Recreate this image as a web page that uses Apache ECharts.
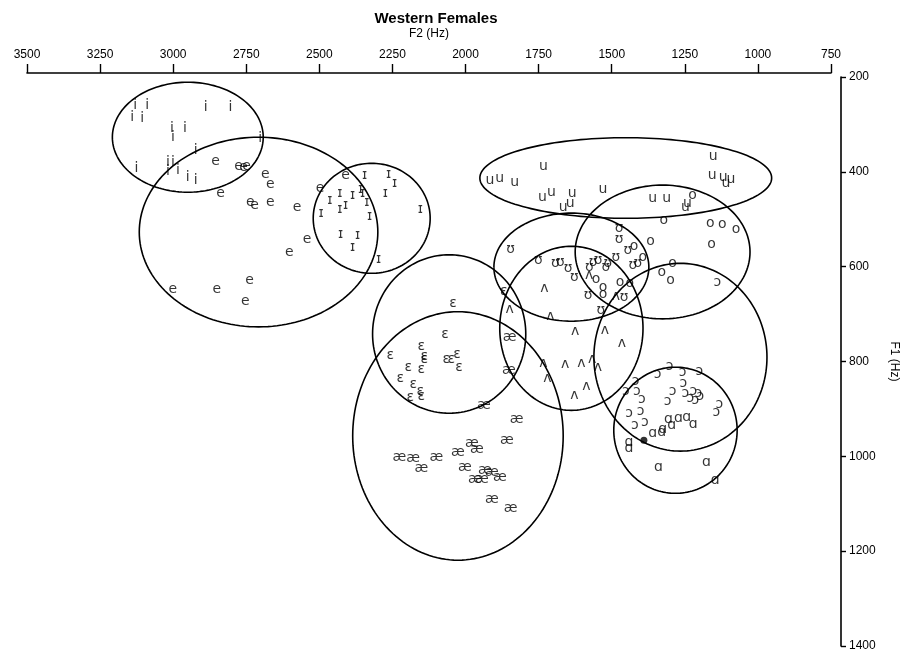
<!DOCTYPE html>
<html><head><meta charset="utf-8">
<script src="https://cdn.jsdelivr.net/npm/echarts@6/dist/echarts.min.js"></script>
<style>html,body{margin:0;padding:0;background:#fff}#c{width:908px;height:654px}</style>
</head><body><div id="c"></div>
<script>
// ---- data (F2 Hz, F1 Hz) ----
const titleText = 'Western Females';
const xName = 'F2 (Hz)';
const yName = 'F1 (Hz)';

const vowel_i = [[3130,259],[3089,259],[3140,286],[3106,288],[2889,263],[2804,263],[3004,308],[3001,327],[2960,308],[2702,329],[2923,354],[3126,392],[3018,381],[3001,379],[2984,396],[2950,411],[2923,417],[3018,400]];
const vowel_e = [[2855,377],[2776,388],[2759,390],[2749,388],[2685,405],[2668,426],[2838,445],[2736,464],[2722,470],[2668,464],[2576,474],[2410,407],[2498,434],[2542,542],[2603,569],[2739,628],[3001,647],[2851,647],[2753,673]];
const vowel_I = [[2345,407],[2263,405],[2243,424],[2274,445],[2155,479],[2430,445],[2386,449],[2359,436],[2352,445],[2464,460],[2410,470],[2430,479],[2338,464],[2494,487],[2328,493],[2427,531],[2369,535],[2386,559],[2297,584]];
const vowel_E = [[2043,677],[2070,742],[2151,768],[2257,787],[2141,789],[2141,795],[2066,795],[2049,795],[2029,784],[2022,812],[2196,812],[2151,816],[2223,835],[2179,848],[2155,863],[2151,873],[2189,875],[1869,652]];
const vowel_ae = [[1849,749],[1852,818],[1937,892],[1825,922],[1859,966],[1978,972],[1961,985],[2026,991],[2100,1002],[2226,1002],[2179,1004],[2151,1025],[2002,1023],[1934,1029],[1910,1033],[1883,1044],[1968,1048],[1944,1048],[1910,1090],[1846,1109]];
const vowel_u = [[1917,419],[1883,413],[1832,422],[1734,388],[1737,453],[1706,443],[1635,445],[1666,474],[1642,466],[1530,438],[1153,367],[1156,407],[1119,411],[1109,424],[1092,415],[1360,455],[1312,455],[1248,474],[1241,466]];
const vowel_U = [[1846,563],[1475,519],[1475,542],[1445,565],[1428,597],[1411,592],[1751,586],[1693,592],[1676,590],[1649,603],[1628,622],[1564,590],[1547,586],[1520,601],[1513,592],[1486,580],[1581,660],[1537,692],[1458,664],[1577,601]];
const vowel_o = [[1224,449],[1322,502],[1163,508],[1122,510],[1075,521],[1159,554],[1367,546],[1424,557],[1394,580],[1292,592],[1329,611],[1299,628],[1472,633],[1554,626],[1530,643],[1530,658],[1438,635]];
const vowel_V = [[1730,645],[1577,618],[1486,662],[1849,690],[1710,704],[1625,736],[1523,734],[1465,761],[1734,803],[1659,806],[1604,803],[1567,795],[1547,812],[1720,835],[1587,852],[1628,871]];
const vowel_O = [[1343,827],[1302,810],[1258,822],[1200,820],[1418,841],[1452,863],[1414,863],[1255,846],[1248,867],[1292,863],[1221,863],[1204,867],[1231,877],[1214,882],[1197,873],[1397,879],[1309,884],[1441,909],[1401,905],[1387,928],[1421,934],[1132,890],[1142,907],[1139,633]];
const vowel_A = [[1306,922],[1295,934],[1272,920],[1244,917],[1221,932],[1326,943],[1329,949],[1360,951],[1441,970],[1441,983],[1340,1023],[1176,1012],[1146,1050]];
const meanDot = [[1390,966]];

// ellipses: [centre F2, centre F1, radius F2, radius F1]
const ellipses = [
  [2950,327,258,116],  // i
  [2708,527,408,200],  // e
  [2321,498,200,116],  // ɪ
  [1452,413,499,85],   // u
  [1326,569,299,141],  // o
  [1638,601,265,114],  // ʊ
  [1638,730,245,173],  // ʌ
  [2056,742,262,167],  // ɛ
  [2026,957,360,262],  // æ
  [1265,791,296,198],  // ɔ
  [1282,945,211,133]   // ɑ
];

const vowelSets = [
  ['i', vowel_i], ['e', vowel_e], ['ɪ', vowel_I], ['ɛ', vowel_E], ['æ', vowel_ae],
  ['u', vowel_u], ['ʊ', vowel_U], ['o', vowel_o], ['ʌ', vowel_V], ['ɔ', vowel_O], ['ɑ', vowel_A]
];

const chart = echarts.init(document.getElementById('c'), null, {renderer:'canvas'});
const AX = 'Liberation Sans, Arial, sans-serif';

const series = [{
  type:'custom', silent:true, clip:false, z:2,
  data: ellipses,
  encode:{x:0, y:1},
  renderItem:(params, api)=>{
    const cx=api.value(0), cy=api.value(1), rx=api.value(2), ry=api.value(3);
    const pts=[];
    for(let k=0;k<=160;k++){
      const t=k/160*2*Math.PI;
      pts.push(api.coord([cx+rx*Math.cos(t), cy+ry*Math.sin(t)]));
    }
    return {type:'polyline', shape:{points:pts}, style:{stroke:'#000', lineWidth:1.6, fill:null}};
  }
}];
vowelSets.forEach(([sym, arr])=>{
  series.push({
    type:'scatter', data:arr, symbolSize:2, z:3, silent:true,
    itemStyle:{color:'rgba(0,0,0,0)'},
    label:{show:true, position:'inside', formatter:sym, color:'#000', fontSize:14, fontFamily:'DejaVu Sans, sans-serif'},
    labelLayout:{hideOverlap:false}
  });
});
series.push({type:'scatter', data:meanDot, symbolSize:7, z:4, silent:true, itemStyle:{color:'#000'}});

const plain = v => String(v);

chart.setOption({
  animation:false,
  backgroundColor:'#fff',
  title:{text:titleText, left:431, top:6, textAlign:'center',
    textStyle:{fontSize:15, fontWeight:'bold', color:'#000', fontFamily:AX}},
  grid:{left:27, right:71, top:77, bottom:8},
  xAxis:{type:'value', position:'top', inverse:true, min:750, max:3500, interval:250, offset:4,
    name:xName, nameLocation:'middle', nameGap:33, nameTextStyle:{fontSize:12, color:'#000', fontFamily:AX},
    axisLine:{show:true, lineStyle:{color:'#000', width:1.6}},
    axisTick:{show:true, inside:false, length:9, lineStyle:{color:'#000', width:1.4}},
    axisLabel:{color:'#000', fontSize:12, margin:12, fontFamily:AX, formatter:plain},
    splitLine:{show:false}},
  yAxis:{type:'value', position:'right', inverse:true, min:200, max:1400, interval:200, offset:10,
    name:yName, nameLocation:'middle', nameGap:47, nameRotate:-90, nameTextStyle:{fontSize:12, color:'#000', fontFamily:AX},
    axisLine:{show:true, lineStyle:{color:'#000', width:1.6}},
    axisTick:{show:true, inside:false, length:5, lineStyle:{color:'#000', width:1.4}},
    axisLabel:{color:'#000', fontSize:12, margin:8, fontFamily:AX, formatter:plain},
    splitLine:{show:false}},
  series
});
</script></body></html>
